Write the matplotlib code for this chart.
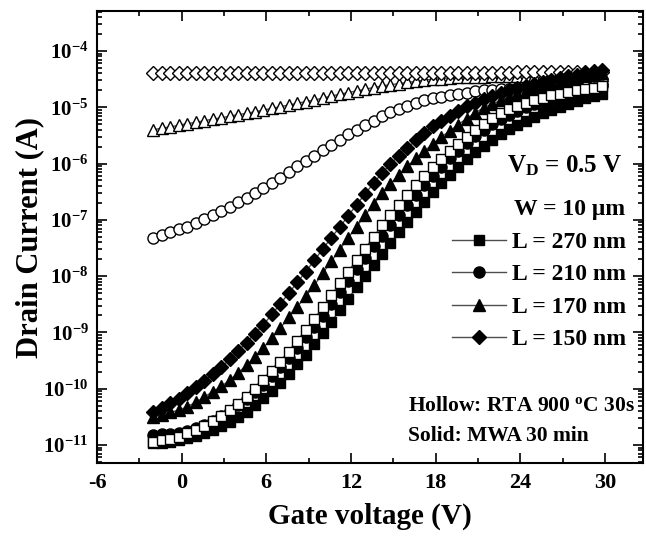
import numpy as np
import matplotlib
matplotlib.use("Agg")
import matplotlib.pyplot as plt
from matplotlib.lines import Line2D
from matplotlib.ticker import MultipleLocator, FixedLocator, LogLocator, NullFormatter

plt.rcParams['font.family'] = ['Liberation Serif', 'DejaVu Serif']
plt.rcParams['font.weight'] = 'bold'
plt.rcParams['mathtext.fontset'] = 'custom'
plt.rcParams['mathtext.rm'] = 'Liberation Serif:bold'
plt.rcParams['mathtext.bf'] = 'Liberation Serif:bold'
plt.rcParams['mathtext.it'] = 'Liberation Serif:bold'
plt.rcParams['mathtext.default'] = 'rm'
plt.rcParams['axes.unicode_minus'] = False

# Gate voltage sweep (V)
vg = np.arange(-2.0, 30.0, 0.6)

# log10 of drain current (A)
# Hollow: RTA 900 C 30s
rta_150 = [-4.40, -4.40, -4.40, -4.40, -4.40, -4.40, -4.40, -4.40, -4.40, -4.40,
           -4.40, -4.40, -4.40, -4.40, -4.40, -4.40, -4.40, -4.40, -4.40, -4.40,
           -4.40, -4.40, -4.40, -4.40, -4.40, -4.40, -4.40, -4.40, -4.40, -4.40,
           -4.39, -4.39, -4.39, -4.39, -4.39, -4.39, -4.39, -4.39, -4.39, -4.39,
           -4.39, -4.39, -4.39, -4.38, -4.38, -4.38, -4.38, -4.38, -4.38, -4.38,
           -4.38, -4.38, -4.38, -4.38]
rta_170 = [-5.40, -5.37, -5.35, -5.32, -5.29, -5.27, -5.24, -5.21, -5.19, -5.16,
           -5.13, -5.11, -5.08, -5.05, -5.02, -4.99, -4.96, -4.93, -4.90, -4.87,
           -4.84, -4.80, -4.77, -4.74, -4.71, -4.68, -4.65, -4.62, -4.60, -4.58,
           -4.56, -4.54, -4.52, -4.50, -4.49, -4.48, -4.47, -4.47, -4.46, -4.46,
           -4.45, -4.45, -4.44, -4.44, -4.44, -4.44, -4.43, -4.43, -4.43, -4.43,
           -4.42, -4.42, -4.42, -4.42]
rta_210 = [-7.32, -7.27, -7.22, -7.17, -7.12, -7.05, -6.99, -6.92, -6.85, -6.77,
           -6.69, -6.61, -6.52, -6.44, -6.35, -6.25, -6.15, -6.05, -5.95, -5.86,
           -5.76, -5.67, -5.58, -5.48, -5.40, -5.32, -5.24, -5.16, -5.09, -5.03,
           -4.98, -4.93, -4.88, -4.84, -4.81, -4.78, -4.76, -4.74, -4.72, -4.70,
           -4.69, -4.68, -4.67, -4.66, -4.65, -4.64, -4.63, -4.62, -4.61, -4.61,
           -4.60, -4.59, -4.59, -4.58]
rta_270 = [-10.95, -10.92, -10.89, -10.85, -10.79, -10.73, -10.66, -10.57, -10.48, -10.38,
           -10.27, -10.14, -10.00, -9.85, -9.69, -9.52, -9.34, -9.16, -8.96, -8.76,
           -8.55, -8.34, -8.13, -7.92, -7.71, -7.51, -7.30, -7.10, -6.91, -6.73,
           -6.56, -6.39, -6.23, -6.07, -5.92, -5.78, -5.65, -5.52, -5.40, -5.29,
           -5.19, -5.10, -5.03, -4.97, -4.92, -4.87, -4.83, -4.79, -4.76, -4.73,
           -4.70, -4.67, -4.65, -4.63]
# Solid: MWA 30 min
mwa_150 = [-10.41, -10.34, -10.26, -10.18, -10.08, -9.97, -9.86, -9.74, -9.62, -9.48,
           -9.33, -9.18, -9.02, -8.86, -8.68, -8.49, -8.30, -8.11, -7.92, -7.72,
           -7.52, -7.32, -7.13, -6.93, -6.73, -6.54, -6.35, -6.17, -6.01, -5.86,
           -5.72, -5.59, -5.46, -5.34, -5.24, -5.15, -5.06, -4.98, -4.92, -4.86,
           -4.80, -4.75, -4.70, -4.66, -4.62, -4.59, -4.55, -4.52, -4.48, -4.45,
           -4.42, -4.39, -4.36, -4.33]
mwa_170 = [-10.50, -10.46, -10.42, -10.38, -10.32, -10.24, -10.15, -10.05, -9.96, -9.85,
           -9.72, -9.58, -9.43, -9.27, -9.10, -8.92, -8.73, -8.54, -8.36, -8.16,
           -7.95, -7.74, -7.53, -7.32, -7.12, -6.92, -6.72, -6.53, -6.36, -6.20,
           -6.05, -5.91, -5.78, -5.65, -5.53, -5.42, -5.31, -5.20, -5.10, -5.01,
           -4.94, -4.88, -4.82, -4.77, -4.72, -4.67, -4.63, -4.59, -4.55, -4.51,
           -4.48, -4.45, -4.42, -4.39]
mwa_210 = [-10.82, -10.81, -10.80, -10.78, -10.75, -10.70, -10.64, -10.57, -10.48, -10.39,
           -10.29, -10.18, -10.06, -9.93, -9.78, -9.62, -9.45, -9.28, -9.09, -8.90,
           -8.70, -8.49, -8.29, -8.08, -7.87, -7.67, -7.47, -7.28, -7.10, -6.92,
           -6.74, -6.56, -6.39, -6.22, -6.06, -5.91, -5.77, -5.63, -5.51, -5.40,
           -5.30, -5.21, -5.13, -5.06, -5.00, -4.95, -4.90, -4.86, -4.82, -4.78,
           -4.74, -4.70, -4.66, -4.62]
mwa_270 = [-10.97, -10.96, -10.94, -10.91, -10.88, -10.84, -10.79, -10.73, -10.67, -10.60,
           -10.51, -10.41, -10.29, -10.17, -10.04, -9.89, -9.73, -9.57, -9.40, -9.21,
           -9.01, -8.81, -8.61, -8.40, -8.20, -8.00, -7.80, -7.60, -7.41, -7.22,
           -7.04, -6.86, -6.68, -6.51, -6.35, -6.20, -6.06, -5.92, -5.80, -5.69,
           -5.58, -5.48, -5.39, -5.31, -5.24, -5.17, -5.11, -5.05, -4.99, -4.94,
           -4.89, -4.84, -4.80, -4.76]

legend_labels = ['L = 270 nm', 'L = 210 nm', 'L = 170 nm', 'L = 150 nm']
x_ticks = [-6, 0, 6, 12, 18, 24, 30]
y_ticks = [1e-11, 1e-10, 1e-9, 1e-8, 1e-7, 1e-6, 1e-5, 1e-4]

W, H = 646, 540
fig = plt.figure(figsize=(W / 100, H / 100), dpi=100)
ax = fig.add_axes([97 / W, 1 - 463 / H, (643 - 97) / W, (463 - 11) / H])

LC = '0.3'
MS = {'s': 7.2, 'o': 8.0, '^': 8.5, 'D': 7.3}

def draw(vals, marker, filled, z):
    fc = 'black' if filled else 'white'
    ax.plot(vg, 10 ** np.array(vals), marker=marker, ms=MS[marker], mfc=fc, mec='black',
            mew=1.0, color=LC, lw=1.0, zorder=z)

draw(mwa_270, 's', True, 3)
draw(mwa_210, 'o', True, 4)
draw(rta_270, 's', False, 5)
draw(rta_210, 'o', False, 3)
draw(mwa_170, '^', True, 4)
draw(mwa_150, 'D', True, 5)
draw(rta_170, '^', False, 3)
draw(rta_150, 'D', False, 3)

ax.set_yscale('log')
ax.set_xlim(-6, 32.7)
ax.set_ylim(10 ** -11.32, 10 ** -3.29)
ax.set_xticks(x_ticks)
ax.xaxis.set_minor_locator(MultipleLocator(3))
ax.yaxis.set_major_locator(FixedLocator(y_ticks))
ax.yaxis.set_minor_locator(LogLocator(base=10, subs=np.arange(2, 10), numticks=20))
ax.yaxis.set_minor_formatter(NullFormatter())

for s in ax.spines.values():
    s.set_linewidth(1.5)
ax.tick_params(which='both', direction='in', top=True, right=True, width=1.2)
ax.tick_params(which='major', length=7, pad=6)
ax.tick_params(axis='x', which='major', labelsize=16, pad=7)
ax.tick_params(axis='y', which='major', labelsize=15)
ax.tick_params(which='minor', length=3.5)

ax.set_xlabel('Gate voltage (V)', fontsize=21, fontweight='bold', labelpad=7)
ax.set_ylabel('Drain Current (A)', fontsize=22, fontweight='bold', labelpad=-1)

ax.text(0.963, 0.642, r'V$_{\mathbf{D}}$ = 0.5 V', transform=ax.transAxes,
        ha='right', va='baseline', fontsize=18, fontweight='bold')
ax.text(0.967, 0.549, 'W = 10 \u03bcm', transform=ax.transAxes,
        ha='right', va='baseline', fontsize=17, fontweight='bold')

handles = [Line2D([], [], color=LC, lw=1.0, marker=m, ms=MS[m], mfc='black', mec='black')
           for m in ['s', 'o', '^', 'D']]
ax.legend(handles, legend_labels, loc='upper left', bbox_to_anchor=(452 / W, 1 - 231.5 / H),
          bbox_transform=fig.transFigure, frameon=False, fontsize=17, handlelength=2.3,
          handletextpad=0.25, labelspacing=0.46, borderpad=0, borderaxespad=0)

ax.text(0.985, 0.115, r'Hollow: RTA 900 $^{\mathrm{o}}$C 30s', transform=ax.transAxes,
        ha='right', va='baseline', fontsize=15.5, fontweight='bold')
ax.text(408 / W, 1 - 441 / H, 'Solid: MWA 30 min', transform=fig.transFigure,
        ha='left', va='baseline', fontsize=15.5, fontweight='bold')

fig.savefig('out.png', dpi=100)
